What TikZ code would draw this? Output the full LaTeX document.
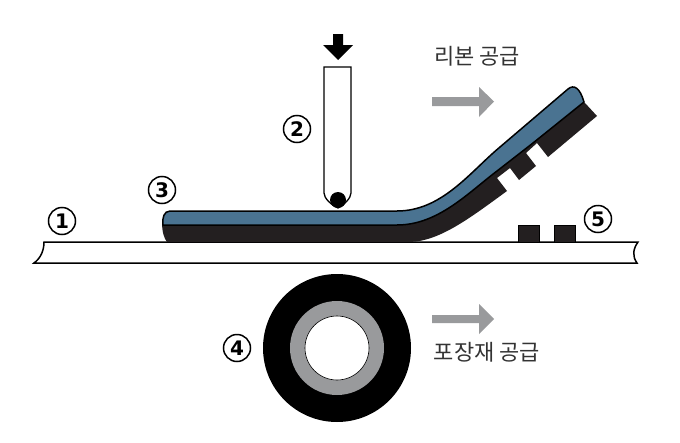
\documentclass[tikz,border=0pt]{standalone}
\usepackage{fontspec}
\usepackage{xcolor}
\setmainfont{DejaVu Sans}
\newfontfamily\kofont{Noto Sans CJK KR}
\definecolor{ribbonblue}{HTML}{4A7391}
\definecolor{inkblack}{HTML}{231F20}
\definecolor{arrowgray}{HTML}{999A9C}
\tikzset{
  numlabel/.style={circle,draw=black,line width=1.5pt,minimum size=27pt,inner sep=0pt,
    font=\fontsize{20}{20}\selectfont\bfseries},
  kolabel/.style={inner sep=0pt,text=black!80,font=\fontsize{22}{22}\selectfont\kofont},
  pigment/.style={fill=inkblack}
}
\begin{document}
\begin{tikzpicture}[x=1pt,y=-1pt]
\useasboundingbox (0,0) rectangle (680,442);

\def\basestrip{(44,242) -- (638,242) .. controls (633,249) and (632,256) .. (637,263)
  -- (34,263) .. controls (41,258) and (44,250) .. (44,242) -- cycle}
\def\blackpart{(162,222) .. controls (162,232) and (164,238) .. (167,242) -- (410,242)
  .. controls (440,241) and (470,218) .. (507,191) -- (497,178) -- (510,168) -- (519,180)
  -- (536,166) -- (526,153) -- (537,143) -- (548,157) -- (597,116) -- (585,103)
  -- (570,100) -- (510,150) .. controls (470,185) and (435,218) .. (397,218) -- cycle}
\def\bluepart{(170,211) -- (397,211) .. controls (442,211) and (470,172) .. (500,147)
  -- (568,89) .. controls (574,84) and (580,88) .. (584,102)
  -- (533,143) -- (497,171) .. controls (468,193) and (438,225) .. (397,225)
  -- (163,225) .. controls (162,218) and (164,211) .. (170,211) -- cycle}

% film base
\draw[line width=1.5pt,fill=white] \basestrip;

% ribbon
\fill[pigment] \blackpart;
\draw[line width=1.5pt,fill=ribbonblue] \bluepart;

% pigment left on the film
\fill[pigment,draw=black] (518,225) rectangle (539,242);
\fill[pigment,draw=black] (554,225) rectangle (575,242);

% heated tool
\draw[line width=1.3pt,fill=white] (324,67) -- (351,67) -- (351,193)
  .. controls (351,198) and (344,205) .. (338,208)
  .. controls (331,205) and (324,198) .. (324,193) -- cycle;
\fill[black] (338,200) circle (8);
\fill[black] (333,34) -- (343,34) -- (343,45) -- (353,45) -- (338,60) -- (323,45) -- (333,45) -- cycle;

% feed arrows
\fill[arrowgray] (432,97) -- (479,97) -- (479,87) -- (494,101.5) -- (479,117) -- (479,106) -- (432,106) -- cycle;
\fill[arrowgray] (432,315) -- (479,315) -- (479,304) -- (494,319) -- (479,334) -- (479,323) -- (432,323) -- cycle;

% roll
\fill[black] (337,348) circle (74);
\fill[arrowgray] (337,348) circle (47);
\draw[fill=white,line width=0.6pt] (337,348) circle (32);

% labels
\node[numlabel] (one) at (62,221) {1};
\node[numlabel] (two) at (297,129) {2};
\node[numlabel] (three) at (162,190) {3};
\node[numlabel] (four) at (237,348) {4};
\node[numlabel] (five) at (598,219) {5};
\node[kolabel] (ribbonfeed) at (477,56) {리본 공급};
\node[kolabel] (filmfeed) at (487,352) {포장재 공급};

\end{tikzpicture}
\end{document}
